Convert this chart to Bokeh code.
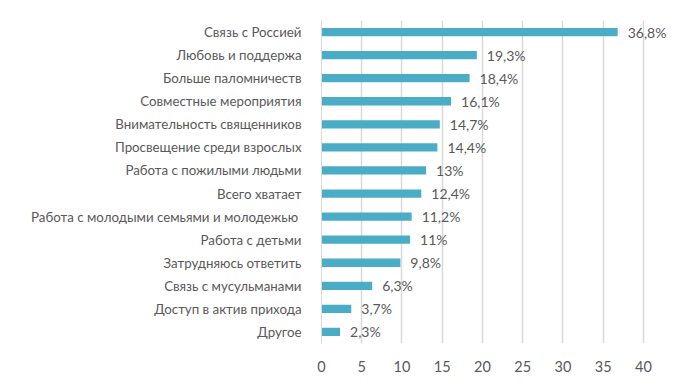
from bokeh.plotting import figure
from bokeh.models import Range1d, FactorRange, FixedTicker, ColumnDataSource
from bokeh.core.properties import value
from bokeh.embed import file_html
from bokeh.resources import INLINE

categories = [
    "Связь с Россией",
    "Любовь и поддержа",
    "Больше паломничеств",
    "Совместные мероприятия",
    "Внимательность священников",
    "Просвещение среди взрослых",
    "Работа с пожилыми людьми",
    "Всего хватает",
    "Работа с молодыми семьями и молодежью ",
    "Работа с детьми",
    "Затрудняюсь ответить",
    "Связь с мусульманами",
    "Доступ в актив прихода",
    "Другое",
]
values = [36.8, 19.3, 18.4, 16.1, 14.7, 14.4, 13.0, 12.4, 11.2, 11.0, 9.8, 6.3, 3.7, 2.3]
value_labels = ["36,8%", "19,3%", "18,4%", "16,1%", "14,7%", "14,4%", "13%", "12,4%",
                "11,2%", "11%", "9,8%", "6,3%", "3,7%", "2,3%"]
x_ticks = [0, 5, 10, 15, 20, 25, 30, 35, 40]

FONT = "Lato"
GREY = "#595959"

src = ColumnDataSource(dict(cat=categories, val=values, lab=value_labels))

p = figure(
    width=692, height=381,
    y_range=FactorRange(*reversed(categories), range_padding=0),
    x_range=Range1d(0, 46.1),
    output_backend="svg", toolbar_location=None,
    min_border_left=321, min_border_right=0, min_border_top=20, min_border_bottom=38,
)
p.outline_line_color = None

p.hbar(y="cat", right="val", left=0, height=0.36, source=src,
       fill_color="#4BACC6", line_color=None)
p.text(x="val", y="cat", text="lab", source=src, x_offset=10,
       text_baseline="middle", text_align="left",
       text_font=value(FONT), text_font_size="14px", text_color=GREY)

p.xaxis.ticker = FixedTicker(ticks=x_ticks)
p.xaxis.axis_line_color = None
p.xaxis.major_tick_line_color = None
p.xaxis.minor_tick_line_color = None
p.xaxis.major_label_text_font = FONT
p.xaxis.major_label_text_font_size = "14.5px"
p.xaxis.major_label_text_color = GREY
p.xaxis.major_label_standoff = 11

p.yaxis.axis_line_color = "#d9d9d9"
p.yaxis.major_tick_line_color = None
p.yaxis.minor_tick_line_color = None
p.yaxis.major_label_text_font = FONT
p.yaxis.major_label_text_font_size = "13.3px"
p.yaxis.major_label_text_color = GREY
p.yaxis.major_label_standoff = 14

p.xgrid.grid_line_color = "#d9d9d9"
p.xgrid.grid_line_width = 1.5
p.ygrid.grid_line_color = None

open("out.html", "w").write(file_html(p, INLINE))
